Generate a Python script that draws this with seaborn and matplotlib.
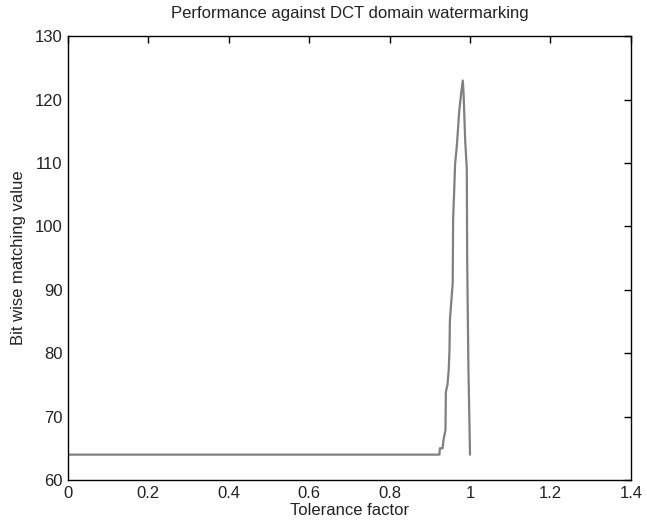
import matplotlib
matplotlib.use("Agg")
import matplotlib.pyplot as plt
import seaborn as sns
import pandas as pd

tolerance = [0.0, 0.924, 0.925, 0.932, 0.934, 0.939, 0.940, 0.944, 0.947, 0.949, 0.950,
             0.955, 0.957, 0.958, 0.961, 0.963, 0.967, 0.970, 0.973, 0.978, 0.982,
             0.984, 0.988, 0.992, 0.993, 0.996, 0.998, 1.0]
matching = [64, 64, 65, 65, 66.3, 67.9, 73.9, 75, 77.3, 80.5, 85.2,
            89.4, 91, 101, 106.2, 109.9, 112.5, 115.2, 118.1, 121, 123,
            121, 113.6, 109.1, 94.7, 77.8, 71, 64]

x_ticks = [0, 0.2, 0.4, 0.6, 0.8, 1, 1.2, 1.4]
x_labels = ["0", "0.2", "0.4", "0.6", "0.8", "1", "1.2", "1.4"]
y_ticks = [60, 70, 80, 90, 100, 110, 120, 130]

sns.set_style("white")
plt.rcParams["font.family"] = ["Liberation Sans", "DejaVu Sans"]

df = pd.DataFrame({"Tolerance factor": tolerance, "Bit wise matching value": matching})

fig = plt.figure(figsize=(6.47, 5.24), dpi=100)
ax = fig.add_axes([0.105, 0.084, 0.870, 0.847])
sns.lineplot(data=df, x="Tolerance factor", y="Bit wise matching value", ax=ax,
             color="#808080", linewidth=1.6, sort=False)
ax.set_xlim(0, 1.4)
ax.set_ylim(60, 130)
ax.set_xticks(x_ticks)
ax.set_xticklabels(x_labels)
ax.set_yticks(y_ticks)
ax.tick_params(direction="in", length=5, width=1, labelsize=12, top=True, right=True,
               colors="black", labelcolor="#222222", pad=4)
for s in ax.spines.values():
    s.set_visible(True)
    s.set_color("black")
    s.set_linewidth(1.0)
ax.set_xlabel("Tolerance factor", fontsize=12, color="#222222", labelpad=2)
ax.set_ylabel("Bit wise matching value", fontsize=12, color="#222222", labelpad=6)
ax.set_title("Performance against DCT domain watermarking", fontsize=12,
             color="#222222", pad=13)
fig.savefig("out.png", dpi=100)
